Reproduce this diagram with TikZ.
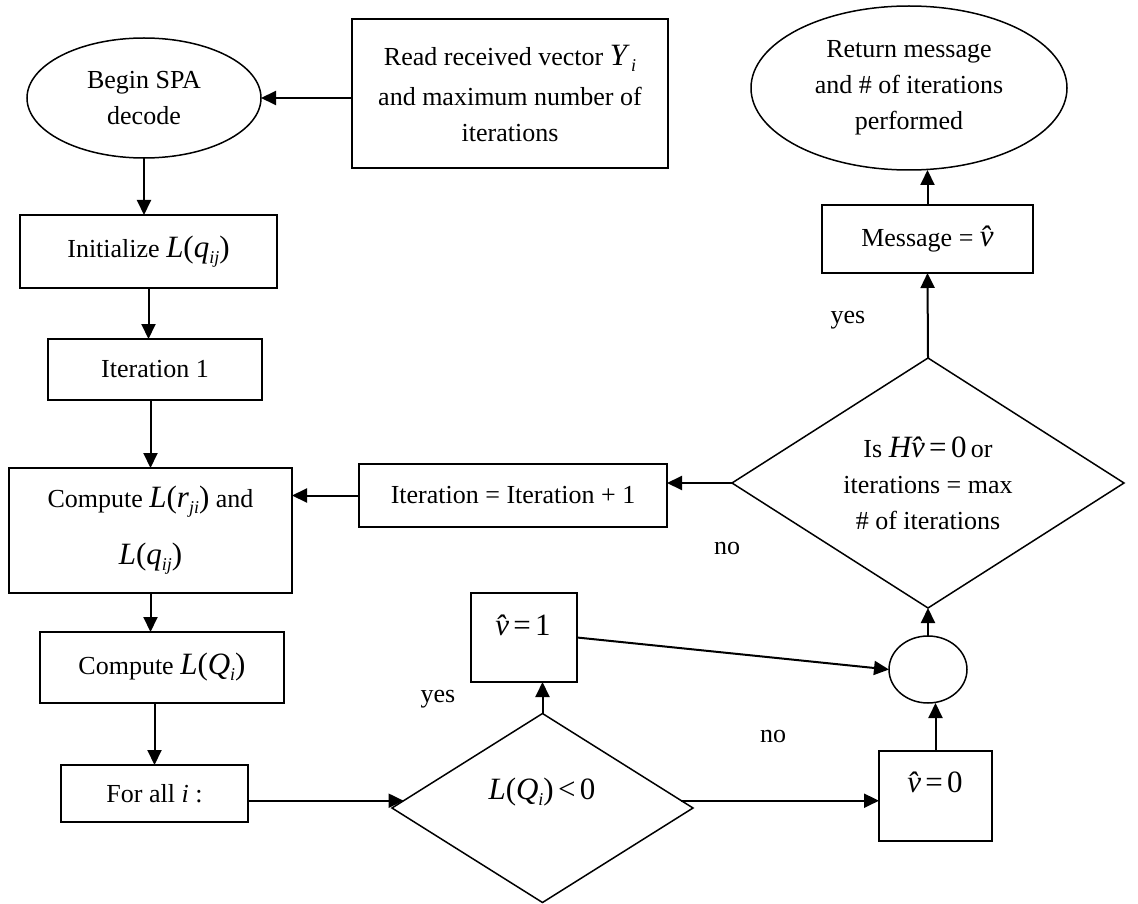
\documentclass[tikz,border=0pt]{standalone}
\usepackage{fontspec}
\setmainfont{Liberation Serif}
\usetikzlibrary{shapes.geometric,arrows.meta}

% formula pieces: larger italic variables, upright operators, lowered subscripts
\newcommand{\mt}{\fontsize{31}{31}\selectfont}
\newcommand{\vr}[1]{{\mt\itshape #1}}
\newcommand{\op}[1]{{\mt #1}}
\newcommand{\sbs}[1]{\raisebox{-6pt}{\fontsize{18}{18}\selectfont\itshape #1}}
\newcommand{\vhat}{\vr{\^{v}}}

\begin{document}
\begin{tikzpicture}[x=1pt,y=-1pt,
  every node/.style={font=\fontsize{26}{36}\selectfont, inner sep=0pt, outer sep=0pt},
  box/.style={draw, line width=1.8pt, rectangle, align=center},
  oval/.style={draw, line width=1.5pt, ellipse, align=center},
  decision/.style={draw, line width=1.5pt, diamond},
  txt/.style={align=center},
  arr/.style={line width=2pt, -{Triangle[length=15pt,width=14pt]}},
]
\useasboundingbox (0,0) rectangle (1138,904);

% terminals
\node[oval, minimum width=234pt, minimum height=120pt] (begin) at (144,98) {Begin SPA\\decode};
\node[oval, minimum width=316pt, minimum height=164pt] (ret) at (909,88) {Return message\\and \# of iterations\\performed};

% input
\node[box, minimum width=316pt, minimum height=149pt] (read) at (510,93.5)
  {Read received vector \vr{Y}\hspace{4pt}\sbs{i}\\[4pt]and maximum number of\\iterations};

% main column
\node[box, minimum width=257pt, minimum height=73pt] (init) at (148.5,251.5) {Initialize \vr{L}\op{(}\vr{q}\sbs{ij}\op{)}};
\node[box, minimum width=214pt, minimum height=61pt] (it1) at (155,369.5) {Iteration 1};
\node[box, minimum width=283pt, minimum height=125pt] (comp) at (150.5,530.5)
  {Compute \vr{L}\op{(}\vr{r}\sbs{ji}\op{)} and\\[21pt]\vr{L}\op{(}\vr{q}\sbs{ij}\op{)}};
\node[box, minimum width=244pt, minimum height=71pt] (compQ) at (162,667.5) {Compute \vr{L}\op{(}\vr{Q}\sbs{i}\op{)}};
\node[box, minimum width=187pt, minimum height=57pt] (forall) at (154.5,793.5) {For all \textit{i} :};

% hard decision
\node[decision, minimum width=301pt, minimum height=189pt] (test) at (542.5,808) {};
\node[txt] (testtxt) at (542,792) {\vr{L}\op{(}\vr{Q}\sbs{i}\op{)}\,\op{<}\,\op{0}};
\node[box, minimum width=106pt, minimum height=89pt] (one) at (524,637.5) {};
\node[txt] (onetxt) at (523,625) {\vhat\,\op{=}\,\op{1}};
\node[box, minimum width=113pt, minimum height=90pt] (zero) at (935.5,796) {};
\node[txt] (zerotxt) at (935,782) {\vhat\,\op{=}\,\op{0}};
\node[draw, line width=1.5pt, ellipse, minimum width=78pt, minimum height=67pt] (join) at (928,669.5) {};

% stopping test
\node[decision, minimum width=392pt, minimum height=250pt] (isH) at (928,483) {};
\node[txt] (isHtxt) at (928,483) {Is \vr{H}\vhat\,\op{=}\,\op{0}\,or\\iterations = max\\\# of iterations};
\node[box, minimum width=308pt, minimum height=63pt] (incr) at (513,495.5) {Iteration = Iteration + 1};
\node[box, minimum width=211pt, minimum height=68pt] (msg) at (927.5,239) {Message = \vhat};

% branch labels
\node (yes1) at (848,320) {yes};
\node (no1) at (727,548) {no};
\node (yes2) at (438,699) {yes};
\node (no2) at (773,736) {no};

% connectors
\draw[arr] (read.west |- begin.center) -- (begin.east);
\draw[arr] (begin.south) -- (begin.south |- init.north);
\draw[arr] (init.south) -- (init.south |- it1.north);
\draw[arr] (comp.north |- it1.south) -- (comp.north);
\draw[arr] (comp.south) -- (comp.south |- compQ.north);
\draw[arr] (forall.north |- compQ.south) -- (forall.north);
\draw[arr] (forall.east |- test.177) -- (test.177);
\draw[arr] (test.3) -- (test.3 -| zero.west);
\draw[arr] (test.north) -- (test.north |- one.south);
\draw[arr] (one.east) -- (join.west);
\draw[arr] (zero.north) -- (zero.north |- join.south);
\draw[arr] (join.north) -- (isH.south);
\draw[arr] (isH.north) -- (msg.south);
\draw[arr] (msg.north) -- (msg.north |- ret.south);
\draw[arr] (isH.west) -- (isH.west -| incr.east);
\draw[arr] (incr.west) -- (incr.west -| comp.east);
\end{tikzpicture}
\end{document}
